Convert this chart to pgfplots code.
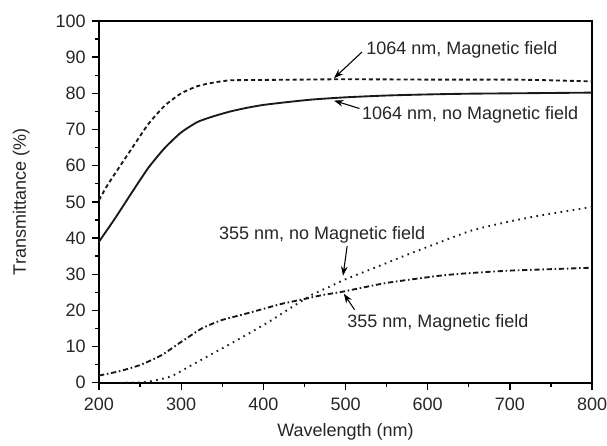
\documentclass[border=0pt]{standalone}
\usepackage{fontspec}
\setmainfont{Liberation Sans}
\usepackage{pgfplots}
\pgfplotsset{compat=1.18}
\usetikzlibrary{arrows.meta}

\begin{document}
\begin{tikzpicture}
\def\fs{\fontsize{13.5}{16}\selectfont}
\begin{axis}[
    scale only axis,
    width=370pt, height=271.5pt,
    xmin=200, xmax=800, ymin=0, ymax=100,
    xtick={200,300,...,800}, ytick={0,10,...,100},
    minor x tick num=1, minor y tick num=1,
    tick align=outside,
    tick pos=left,
    major tick length=5.5pt, minor tick length=3pt,
    axis line style={line width=1.2pt},
    every tick/.style={line width=1pt, black},
    tick label style={font=\fs, text=black!85},
    /pgf/number format/assume math mode=true,
    xticklabel style={yshift=-2pt},
    yticklabel style={xshift=-1pt},
    label style={font=\fs, text=black!85},
    xlabel={Wavelength (nm)},
    ylabel={Transmittance (\%)},
    xlabel style={at={(axis description cs:0.5,-0.135)}, anchor=center},
    ylabel style={at={(axis description cs:-0.158,0.5)}, anchor=center},
    every axis plot/.append style={smooth, tension=0.35},
    clip=false,
]
% 1064 nm, no magnetic field
\addplot[black!90, line width=1.4pt] coordinates {
(200,39.0) (220,45.6) (240,52.6) (260,59.4) (280,64.9) (300,69.2) (320,72.1)
(340,73.7) (360,75.0) (380,76.0) (400,76.8) (430,77.6) (460,78.3) (500,78.9)
(550,79.4) (600,79.7) (650,79.9) (700,80.0) (750,80.1) (800,80.2)
};
% 1064 nm, magnetic field
\addplot[black!90, line width=1.4pt, dash pattern=on 3pt off 2.2pt] coordinates {
(200,50.5) (210,54.5) (220,58.0) (240,64.8) (260,71.5) (280,76.6) (300,80.0)
(320,82.0) (340,83.0) (360,83.6) (400,83.7) (450,83.8) (500,83.9) (600,83.8)
(700,83.8) (750,83.6) (800,83.3)
};
% 355 nm, no magnetic field
\addplot[black!90, line width=1.4pt, dash pattern=on 1.2pt off 3.4pt] coordinates {
(225,0) (250,0.1) (265,0.5) (288,1.8) (313,4.9) (337,7.9) (361,10.9) (386,14.1)
(410,17.3) (434,20.8) (459,24.3) (483,26.8) (500,28.6) (540,32.2) (574,35.3)
(620,39.3) (655,42.2) (700,44.6) (736,46.2) (770,47.5) (800,48.6)
};
% 355 nm, magnetic field
\addplot[black!90, line width=1.4pt, dash pattern=on 4pt off 2pt on 1.2pt off 2pt] coordinates {
(200,2.0) (225,3.2) (250,4.9) (276,7.6) (300,11.3) (325,15.0) (349,17.3)
(374,18.8) (398,20.3) (422,21.8) (447,23.0) (471,24.2) (497,25.2) (550,27.6)
(615,29.6) (650,30.3) (700,31.0) (750,31.4) (800,31.8)
};

% annotations
\draw[-{Stealth[length=7pt,width=5pt]}, line width=0.8pt] (axis cs:520,91.4) -- (axis cs:486,84.2);
\node[anchor=west, font=\fs, text=black!85, inner sep=0pt] at (axis cs:525,92) {1064 nm, Magnetic field};
\draw[-{Stealth[length=7pt,width=5pt]}, line width=0.8pt] (axis cs:517,75.8) -- (axis cs:486,78.0);
\node[anchor=west, font=\fs, text=black!85, inner sep=0pt] at (axis cs:520,74) {1064 nm, no Magnetic field};
\draw[-{Stealth[length=7pt,width=5pt]}, line width=0.8pt] (axis cs:502,37.8) -- (axis cs:497,29.6);
\node[anchor=west, font=\fs, text=black!85, inner sep=0pt] at (axis cs:346,40.8) {355 nm, no Magnetic field};
\draw[-{Stealth[length=7pt,width=5pt]}, line width=0.8pt] (axis cs:511,20.2) -- (axis cs:498,24.6);
\node[anchor=west, font=\fs, text=black!85, inner sep=0pt] at (axis cs:502,16.6) {355 nm, Magnetic field};

\coordinate (bl) at (rel axis cs:-0.2008,-0.174);
\coordinate (tr) at (rel axis cs:1.0304,1.058);
\end{axis}
\pgfresetboundingbox
\path[use as bounding box] (bl) rectangle (tr);
\end{tikzpicture}
\end{document}
